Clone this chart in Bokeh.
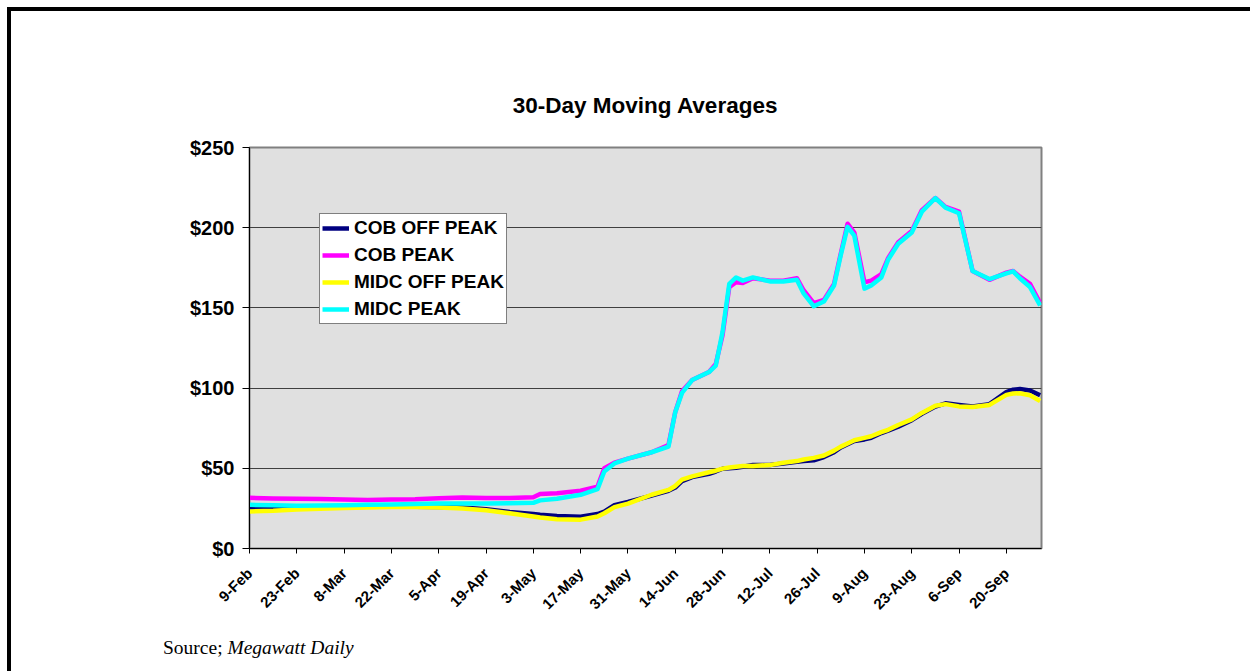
import pandas as pd
from math import pi
from bokeh.plotting import figure
from bokeh.models import (FixedTicker, NumeralTickFormatter, DatetimeTickFormatter,
                          Legend, LegendItem, Range1d, Title)
from bokeh.embed import file_html
from bokeh.resources import INLINE

# 30-day moving averages, $/MWh, 2000
dates = [
    "2000-02-09", "2000-02-16", "2000-02-23", "2000-03-01", "2000-03-08", "2000-03-15",
    "2000-03-22", "2000-03-29", "2000-04-05", "2000-04-12", "2000-04-19", "2000-04-26",
    "2000-05-03", "2000-05-05", "2000-05-10", "2000-05-17", "2000-05-22", "2000-05-24",
    "2000-05-27", "2000-05-31", "2000-06-07", "2000-06-12", "2000-06-14", "2000-06-16",
    "2000-06-19", "2000-06-24", "2000-06-26", "2000-06-28", "2000-06-30", "2000-07-02",
    "2000-07-04", "2000-07-07", "2000-07-12", "2000-07-16", "2000-07-20", "2000-07-22",
    "2000-07-25", "2000-07-28", "2000-07-31", "2000-08-02", "2000-08-04", "2000-08-06",
    "2000-08-09", "2000-08-11", "2000-08-14", "2000-08-16", "2000-08-19", "2000-08-23",
    "2000-08-26", "2000-08-30", "2000-09-02", "2000-09-06", "2000-09-10", "2000-09-15",
    "2000-09-20", "2000-09-22", "2000-09-24", "2000-09-27", "2000-09-30",
]

cob_off_peak = [
    25.1, 25.2, 25.5, 25.7, 25.8, 26.0,
    26.2, 26.0, 25.8, 25.5, 24.5, 22.8,
    21.5, 21.0, 20.2, 19.8, 21.5, 23.0,
    27.0, 29.0, 33.0, 36.0, 38.0, 42.0,
    44.5, 46.6, 48.0, 49.7, 50.0, 50.3,
    51.0, 52.0, 52.0, 53.0, 54.0, 54.5,
    55.0, 57.0, 60.0, 63.0, 65.0, 67.0,
    68.0, 69.0, 72.0, 73.5, 76.0, 80.0,
    84.0, 88.5, 90.5, 89.5, 88.5, 90.0,
    97.5, 99.0, 99.4, 98.5, 95.5,
]

cob_peak = [
    31.6, 31.2, 31.0, 30.8, 30.5, 30.3,
    30.5, 30.7, 31.3, 31.8, 31.5, 31.5,
    32.0, 34.0, 34.5, 36.0, 38.6, 50.0,
    53.5, 56.0, 60.0, 64.5, 85.0, 98.0,
    105.0, 110.0, 115.0, 133.0, 163.0, 166.0,
    165.5, 168.5, 167.0, 167.0, 168.5, 161.0,
    153.0, 155.0, 165.0, 184.0, 202.5, 197.0,
    166.0, 167.0, 171.0, 181.0, 191.0, 198.0,
    211.0, 218.5, 213.0, 210.0, 173.0, 167.5,
    172.0, 173.0, 169.5, 165.0, 153.0,
]

midc_off_peak = [
    23.1, 23.5, 24.3, 24.8, 25.3, 25.5,
    25.8, 25.8, 25.5, 25.0, 23.8, 22.0,
    20.0, 19.3, 18.3, 18.0, 20.0, 22.0,
    25.8, 28.0, 33.5, 36.5, 39.0, 43.0,
    45.0, 47.5, 48.5, 49.8, 50.5, 51.0,
    51.5, 51.5, 52.0, 53.5, 54.5, 55.5,
    56.5, 58.0, 61.0, 63.5, 65.5, 67.5,
    69.0, 70.0, 72.5, 74.0, 77.0, 80.5,
    84.5, 89.0, 90.0, 88.6, 88.2, 89.5,
    95.8, 96.6, 96.8, 95.5, 92.0,
]

midc_peak = [
    27.2, 27.0, 26.6, 26.8, 27.0, 27.2,
    27.5, 27.8, 28.0, 28.0, 28.0, 28.2,
    28.5, 30.0, 31.0, 33.5, 37.0, 48.0,
    53.0, 56.0, 60.0, 63.5, 85.0, 97.0,
    105.0, 110.0, 114.0, 135.0, 165.0, 169.0,
    167.0, 169.0, 166.5, 166.5, 167.5, 159.0,
    151.0, 154.0, 164.0, 183.0, 200.5, 195.0,
    162.0, 164.0, 169.0, 180.0, 190.0, 197.0,
    210.0, 218.5, 212.5, 209.0, 173.0, 168.0,
    171.5, 172.8, 168.5, 163.0, 151.5,
]

series_names = ["COB OFF PEAK", "COB PEAK", "MIDC OFF PEAK", "MIDC PEAK"]
series_values = [cob_off_peak, cob_peak, midc_off_peak, midc_peak]
series_colors = ["#000080", "#FF00FF", "#FFFF00", "#00FFFF"]

y_ticks = [0, 50, 100, 150, 200, 250]
tick_dates = [
    "2000-02-09", "2000-02-23", "2000-03-08", "2000-03-22", "2000-04-05", "2000-04-19",
    "2000-05-03", "2000-05-17", "2000-05-31", "2000-06-14", "2000-06-28", "2000-07-12",
    "2000-07-26", "2000-08-09", "2000-08-23", "2000-09-06", "2000-09-20",
]

chart_title = "30-Day Moving Averages"
source_prefix = "Source; "
source_name = "Megawatt Daily"

SANS = "Liberation Sans"
SERIF = "Liberation Serif"

DAY_MS = 86400000.0


def ms(d):
    return pd.Timestamp(d).value / 1e6


# page and frame geometry (pixels)
W, H = 1250, 671
F_LEFT, F_RIGHT, F_TOP, F_BOTTOM = 249, 1041, 147, 548
X_DAYS = 234.4
x0 = ms(dates[0])
x_span = X_DAYS * DAY_MS

p = figure(width=W, height=H, x_axis_type="datetime",
           x_range=Range1d(x0, x0 + x_span), y_range=Range1d(0, 250),
           output_backend="svg", toolbar_location=None,
           min_border_left=F_LEFT, min_border_right=W - F_RIGHT,
           min_border_top=F_TOP, min_border_bottom=H - F_BOTTOM)

p.background_fill_color = "#E0E0E0"
p.border_fill_color = "white"
p.outline_line_color = "#808080"
p.outline_line_width = 2

x_vals = pd.to_datetime(dates)
renderers = []
for name, vals, col in zip(series_names, series_values, series_colors):
    r = p.line(x_vals, vals, line_color=col, line_width=4.5, line_join="round")
    renderers.append(r)

# axes
p.xaxis.ticker = FixedTicker(ticks=[ms(d) for d in tick_dates])
fmt = "%-d-%b"
p.xaxis.formatter = DatetimeTickFormatter(days=fmt, months=fmt, years=fmt, hours=fmt,
                                          minutes=fmt, hourmin=fmt, seconds=fmt)
p.xaxis.major_label_orientation = pi / 4
p.xaxis.major_label_text_font = SANS
p.xaxis.major_label_text_font_style = "bold"
p.xaxis.major_label_text_font_size = "15px"
p.xaxis.major_label_text_color = "black"
p.xaxis.major_tick_in = 0
p.xaxis.major_tick_out = 5
p.xaxis.minor_tick_out = 0
p.xaxis.minor_tick_in = 0
p.xaxis.axis_line_color = "black"
p.xaxis.major_tick_line_color = "black"
p.xaxis.major_label_standoff = 17

p.yaxis.ticker = FixedTicker(ticks=y_ticks)
p.yaxis.formatter = NumeralTickFormatter(format="$0")
p.yaxis.major_label_text_font = SANS
p.yaxis.major_label_text_font_style = "bold"
p.yaxis.major_label_text_font_size = "20px"
p.yaxis.major_label_text_color = "black"
p.yaxis.major_tick_in = 0
p.yaxis.major_tick_out = 7
p.yaxis.minor_tick_out = 0
p.yaxis.minor_tick_in = 0
p.yaxis.axis_line_color = "black"
p.yaxis.major_tick_line_color = "black"
p.yaxis.major_label_standoff = 8

p.xgrid.visible = False
p.ygrid.ticker = FixedTicker(ticks=[50, 100, 150, 200])
p.ygrid.grid_line_color = "#404040"
p.ygrid.grid_line_width = 1

# legend
legend = Legend(items=[LegendItem(label=n, renderers=[r]) for n, r in zip(series_names, renderers)],
                location=(70, 224))
legend.label_text_font = SANS
legend.label_text_font_style = "bold"
legend.label_text_font_size = "19px"
legend.label_text_color = "black"
legend.glyph_width = 27
legend.glyph_height = 24
legend.label_height = 24
legend.spacing = 3
legend.padding = 2
legend.margin = 0
legend.label_standoff = 5
legend.border_line_color = "black"
legend.border_line_width = 1
legend.background_fill_color = "white"
legend.background_fill_alpha = 1.0
p.add_layout(legend)

# chart title
p.add_layout(Title(text=chart_title, align="center", text_font=SANS, text_font_style="bold",
                   text_font_size="22.5px", text_color="black", standoff=59), "above")

# page extras: surrounding frame lines (top and left edges) and the source line,
# all kept inside the 1250 x 671 page so nothing overflows
page_template = """
{% block postamble %}
<style>
  html, body { margin: 0; padding: 0; overflow: hidden; background: #fff; }
  .frame-top { position: absolute; left: 7px; top: 7px; width: 1243px; height: 4px;
               background: #000; z-index: 10; }
  .frame-left { position: absolute; left: 7px; top: 7px; width: 4px; height: 664px;
                background: #000; z-index: 10; }
  .source { position: absolute; left: 163px; top: 636px; height: 24px; line-height: 24px;
            font-family: "Liberation Serif"; font-size: 19.5px; color: #000;
            white-space: nowrap; z-index: 10; }
</style>
<div class="frame-top"></div>
<div class="frame-left"></div>
<div class="source">{{ source_prefix }}<i>{{ source_name }}</i></div>
{% endblock %}
"""

open("out.html", "w").write(file_html(p, INLINE, template=page_template,
                                      template_variables={"source_prefix": source_prefix,
                                                          "source_name": source_name}))
